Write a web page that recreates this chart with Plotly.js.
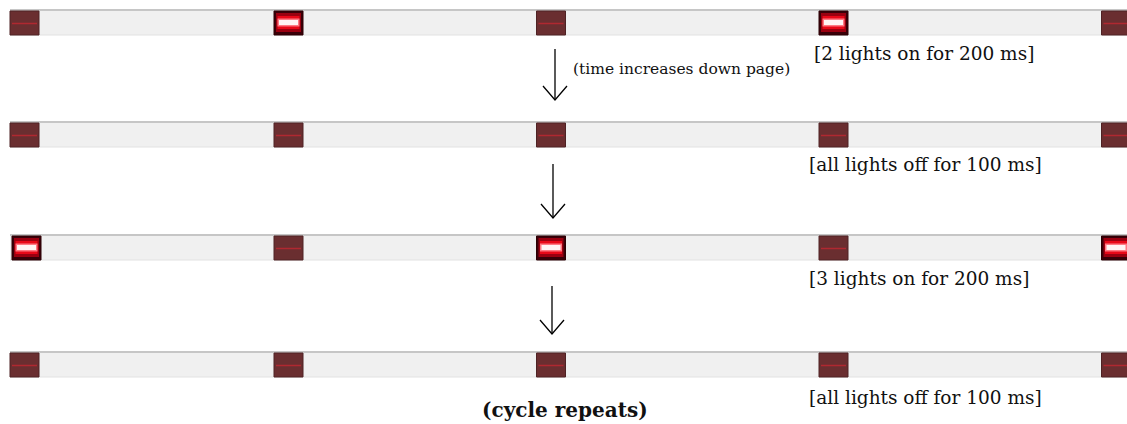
<!DOCTYPE html>
<html>
<head>
<meta charset="utf-8">
<script src="https://cdn.plot.ly/plotly-3.0.1.min.js"></script>
<style>html,body{margin:0;padding:0;background:#fff;}#chart{width:1127px;height:424px;}</style>
</head>
<body>
<div id="chart"></div>
<script>
// ---- data ----
var stepLabels = ["[2 lights on for 200 ms]", "[all lights off for 100 ms]", "[3 lights on for 200 ms]", "[all lights off for 100 ms]"];
var durationsMs = [200, 100, 200, 100];
var lightsRow1 = [0, 1, 0, 1, 0];
var lightsRow2 = [0, 0, 0, 0, 0];
var lightsRow3 = [1, 0, 1, 0, 1];
var lightsRow4 = [0, 0, 0, 0, 0];
var timeNote = "(time increases down page)";
var endNote = "(cycle repeats)";

// ---- layout config ----
var rowTops = [10, 122, 235, 352];
var lightCenters = [24.5, 288.5, 551, 833.5, 1116];
var lightW = 29, barH = 25;
var labelX = [812, 807, 807, 807];
var labelY = [53, 164, 278, 397];
var arrowX = [555, 553, 552];
var arrowY0 = [49, 164, 286];
var arrowY1 = [100, 218, 334];

var rows = [lightsRow1, lightsRow2, lightsRow3, lightsRow4];
var shapes = [];
var annotations = [];
var serif = "DejaVu Serif";

rows.forEach(function (lights, r) {
  var top = rowTops[r];
  shapes.push({type: "rect", xref: "x", yref: "y", x0: 10, x1: 1127, y0: top, y1: top + barH,
    fillcolor: "#f0f0f0", line: {width: 0}, layer: "below"});
  shapes.push({type: "line", xref: "x", yref: "y", x0: 10, x1: 1127, y0: top, y1: top,
    line: {color: "#c6c6c6", width: 2}});
  shapes.push({type: "line", xref: "x", yref: "y", x0: 10, x1: 1127, y0: top + barH, y1: top + barH,
    line: {color: "#e2e2e2", width: 1}});
  lights.forEach(function (on, i) {
    var cx = lightCenters[i];
    if (r === 2 && i === 0) cx = 26.5;
    var x0 = cx - lightW / 2, x1 = cx + lightW / 2, y0 = top + 1, y1 = top + barH;
    var cy = (y0 + y1) / 2;
    if (on) {
      shapes.push({type: "rect", xref: "x", yref: "y", x0: x0, x1: x1, y0: y0, y1: y1,
        fillcolor: "#3a0008", line: {color: "#2a0004", width: 1}});
      shapes.push({type: "rect", xref: "x", yref: "y", x0: x0 + 2, x1: x1 - 2, y0: y0 + 2, y1: y1 - 3,
        fillcolor: "#9a0010", line: {width: 0}});
      shapes.push({type: "rect", xref: "x", yref: "y", x0: x0 + 3.5, x1: x1 - 3.5, y0: cy - 7, y1: cy + 6,
        fillcolor: "#e80818", line: {width: 0}});
      shapes.push({type: "rect", xref: "x", yref: "y", x0: cx - 11, x1: cx + 11, y0: cy - 4.5, y1: cy + 3.5,
        fillcolor: "#ff7a84", line: {width: 0}});
      shapes.push({type: "rect", xref: "x", yref: "y", x0: cx - 9.5, x1: cx + 9.5, y0: cy - 3, y1: cy + 2,
        fillcolor: "#fff4f4", line: {width: 0}});
    } else {
      shapes.push({type: "rect", xref: "x", yref: "y", x0: x0, x1: x1, y0: y0, y1: y1,
        fillcolor: "#6a2e30", line: {color: "#4e2224", width: 1}});
      shapes.push({type: "line", xref: "x", yref: "y", x0: x0 + 2, x1: x1 - 2, y0: cy + 0.5, y1: cy + 0.5,
        line: {color: "#b02830", width: 1.5}});
    }
  });
  annotations.push({x: labelX[r], y: labelY[r], xref: "x", yref: "y", xanchor: "left", yanchor: "middle",
    text: stepLabels[r], showarrow: false, font: {family: serif, size: 18.5, color: "#111"}});
});

// arrows
var arrowTraces = arrowX.map(function (ax, k) {
  var y0 = arrowY0[k], y1 = arrowY1[k];
  return {type: "scatter", mode: "lines", hoverinfo: "skip", showlegend: false,
    x: [ax, ax, null, ax - 12, ax, ax + 12],
    y: [y0, y1, null, y1 - 14, y1, y1 - 14],
    line: {color: "#000", width: 1.3}};
});

annotations.push({x: 571, y: 69, xref: "x", yref: "y", xanchor: "left", yanchor: "middle",
  text: timeNote, showarrow: false, font: {family: serif, size: 15.5, color: "#111"}});
annotations.push({x: 565, y: 410, xref: "x", yref: "y", xanchor: "center", yanchor: "middle",
  text: "<b>" + endNote + "</b>", showarrow: false, font: {family: serif, size: 20, color: "#111"}});

var layout = {
  width: 1127, height: 424,
  margin: {l: 0, r: 0, t: 0, b: 0, pad: 0},
  paper_bgcolor: "#fff", plot_bgcolor: "#fff",
  xaxis: {range: [0, 1127], visible: false, fixedrange: true},
  yaxis: {range: [424, 0], visible: false, fixedrange: true},
  shapes: shapes,
  annotations: annotations,
  showlegend: false
};

Plotly.newPlot("chart", arrowTraces, layout, {staticPlot: true, displayModeBar: false});
</script>
</body>
</html>
